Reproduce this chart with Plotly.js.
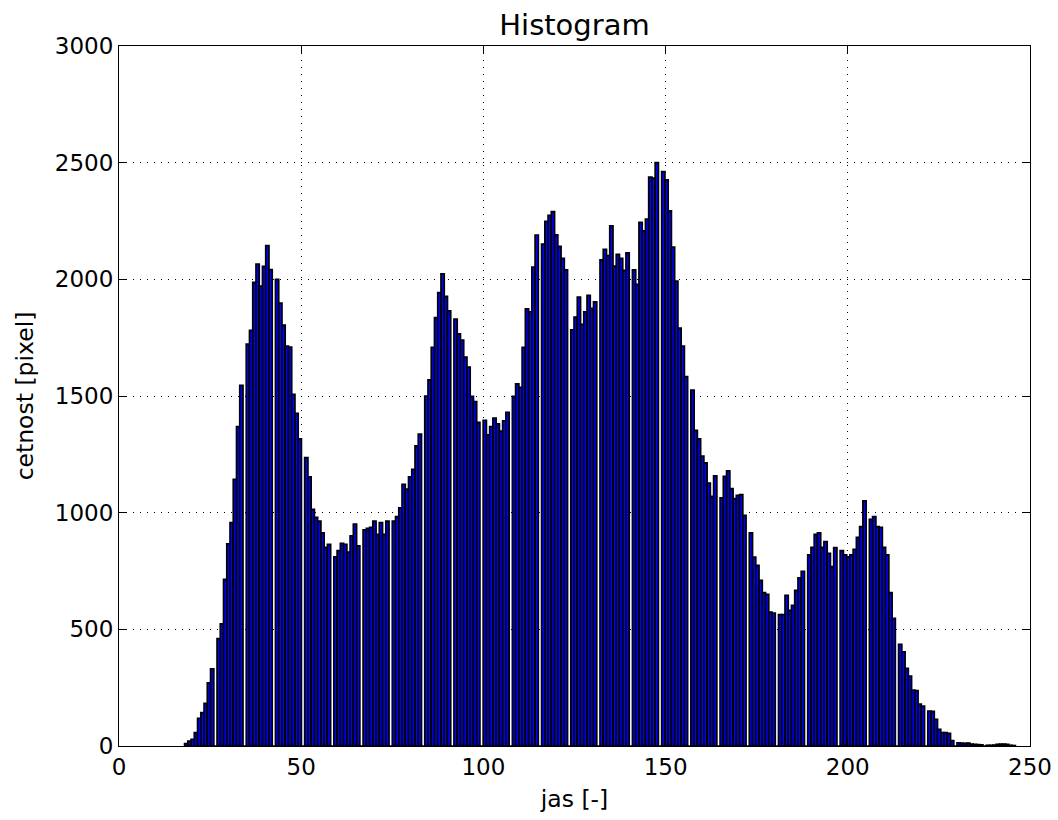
<!DOCTYPE html>
<html>
<head>
<meta charset="utf-8">
<script src="https://cdn.plot.ly/plotly-3.0.1.min.js"></script>
<style>
  html, body { margin: 0; padding: 0; background: #fff; }
  #chart { width: 1058px; height: 820px; }
</style>
</head>
<body>
<div id="chart"></div>
<script>
// Grey levels present in the image (integers LEVEL_MIN..LEVEL_MAX) and their pixel counts
const LEVEL_MIN = 18;
const LEVEL_MAX = 246;
const BIN_COUNT = 256;
const counts = [
  // 18-27
  10, 21, 29, 57, 119, 143, 183, 271, 331, 460,
  // 28-37
  523, 714, 866, 957, 1143, 1369, 1546, 1722, 1781, 1987,
  // 38-47
  2065, 1971, 2056, 2145, 2042, 2000, 1898, 1804, 1714, 1710,
  // 48-57
  1507, 1426, 1316, 1236, 1154, 1014, 980, 964, 914, 851,
  // 58-67
  864, 811, 837, 869, 864, 831, 901, 951, 858, 926,
  // 68-77
  933, 937, 964, 907, 957, 907, 964, 964, 983, 1021,
  // 78-87
  1121, 1101, 1154, 1186, 1286, 1337, 1500, 1569, 1709, 1836,
  // 88-97
  1943, 2023, 1927, 1865, 1830, 1766, 1740, 1667, 1624, 1498,
  // 98-107
  1476, 1387, 1396, 1333, 1369, 1405, 1381, 1350, 1394, 1430,
  // 108-117
  1498, 1552, 1537, 1709, 1873, 1861, 2052, 2190, 2151, 2248,
  // 118-127
  2274, 2290, 2191, 2141, 2090, 2041, 1784, 1838, 1924, 1807,
  // 128-137
  1861, 1931, 1876, 1904, 2083, 2128, 2102, 2229, 2057, 2107,
  // 138-147
  2090, 2038, 2113, 2041, 1979, 2244, 2208, 2258, 2438, 2434,
  // 148-157
  2500, 2462, 2426, 2294, 2138, 1992, 1791, 1714, 1583, 1525,
  // 158-167
  1353, 1316, 1242, 1213, 1127, 1070, 1158, 1064, 1156, 1179,
  // 168-177
  1103, 1060, 1074, 1077, 989, 913, 810, 774, 710, 657,
  // 178-187
  650, 574, 570, 563, 563, 646, 581, 603, 667, 721,
  // 188-197
  749, 819, 851, 907, 914, 851, 876, 826, 769, 850,
  // 198-207
  837, 819, 811, 819, 843, 894, 940, 1051, 971, 983,
  // 208-217
  940, 937, 851, 819, 657, 547, 436, 404, 333, 300,
  // 218-227
  240, 237, 180, 171, 150, 148, 114, 71, 57, 57,
  // 228-237
  54, 23, 14, 12, 11, 12, 8, 7, 6, 5,
  // 238-246
  3, 3, 4, 7, 8, 8, 7, 3, 2
];

const xTickVals = [0, 50, 100, 150, 200, 250];
const yTickVals = [0, 500, 1000, 1500, 2000, 2500, 3000];

// Histogram binning like matplotlib: 256 equal bins between min and max level
const binWidth = (LEVEL_MAX - LEVEL_MIN) / BIN_COUNT;
const binned = new Array(BIN_COUNT).fill(0);
counts.forEach((c, i) => {
  const level = LEVEL_MIN + i;
  let b = Math.floor((level - LEVEL_MIN) / binWidth);
  if (b >= BIN_COUNT) b = BIN_COUNT - 1;
  binned[b] += c;
});
const binCenters = binned.map((_, b) => LEVEL_MIN + (b + 0.5) * binWidth);

const FONT = 'DejaVu Sans, Liberation Sans, sans-serif';

const trace = {
  type: 'bar',
  x: binCenters,
  y: binned,
  width: binWidth,
  marker: { color: '#0000ff', line: { color: '#000000', width: 1.7 } },
  hoverinfo: 'skip'
};

const axisCommon = {
  showline: true, linecolor: '#000', linewidth: 1, mirror: 'allticks',
  ticks: 'inside', ticklen: 7, tickwidth: 1, tickcolor: '#000',
  showgrid: true, gridcolor: '#000', gridwidth: 1, griddash: '1px,6px',
  zeroline: false, automargin: false,
  tickfont: { family: FONT, size: 23, color: '#000' }
};

const layout = {
  width: 1058, height: 820,
  margin: { l: 119, r: 28, t: 46, b: 74, pad: 0 },
  paper_bgcolor: '#ffffff', plot_bgcolor: '#ffffff',
  showlegend: false, bargap: 0, hovermode: false,
  title: {
    text: 'Histogram', font: { family: FONT, size: 29, color: '#000' },
    x: 0.5, xref: 'paper', xanchor: 'center', y: 1 - 25 / 820, yref: 'container', yanchor: 'middle'
  },
  xaxis: Object.assign({}, axisCommon, {
    range: [0, 250], tickmode: 'array', tickvals: xTickVals, ticktext: xTickVals.map(String),
    title: { text: 'jas [-]', font: { family: FONT, size: 23.5, color: '#000' }, standoff: 11 }
  }),
  yaxis: Object.assign({}, axisCommon, {
    range: [0, 3000], tickmode: 'array', tickvals: yTickVals, ticktext: yTickVals.map(String),
    title: { text: 'cetnost [pixel]', font: { family: FONT, size: 23.5, color: '#000' }, standoff: 14 }
  })
};

Plotly.newPlot('chart', [trace], layout, { displayModeBar: false, staticPlot: true });
</script>
</body>
</html>
